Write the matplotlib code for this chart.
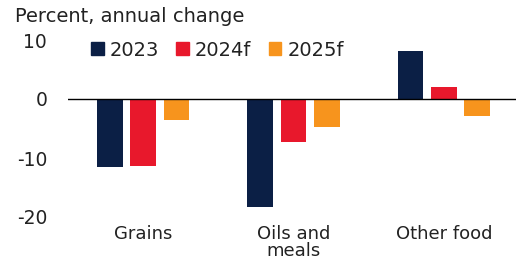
import matplotlib
matplotlib.use("Agg")
import matplotlib.pyplot as plt
import numpy as np
from matplotlib.patches import Patch

categories = ["Grains", "Oils and\nmeals", "Other food"]
series_names = ["2023", "2024f", "2025f"]
v2023 = [-11.5, -18.3, 8.1]
v2024 = [-11.3, -7.3, 2.0]
v2025 = [-3.6, -4.8, -2.9]
yticks = [-20, -10, 0, 10]

colors = ["#0b1f45", "#e8182c", "#f7941d"]
FONT = "DejaVu Sans"
TXT = "#222222"

fig = plt.figure(figsize=(5.16, 2.63), dpi=100)
ax = fig.add_axes([68/516, 1-217/263, 1-68/516, (217-40)/263])

x = np.arange(len(categories))
step = 0.222
width = 0.172
for i, (vals, c, name) in enumerate(zip([v2023, v2024, v2025], colors, series_names)):
    ax.bar(x + (i-1)*step, vals, width=width, color=c, label=name)

ax.axhline(0, color="black", lw=1)
ax.set_ylim(-20, 10)
ax.set_xlim(-0.5, 2.48)
ax.set_yticks(yticks)
ax.set_yticklabels([str(t) for t in yticks], family=FONT, fontsize=13.5, color=TXT)
ax.set_xticks(x)
ax.set_xticklabels(categories, family=FONT, fontsize=13, color=TXT, linespacing=0.9, va="top")
ax.tick_params(axis="both", length=0)
ax.tick_params(axis="x", pad=6)
ax.tick_params(axis="y", pad=15)
for s in ax.spines.values():
    s.set_visible(False)

fig.text(15/516, 1-17/263, "Percent, annual change", family=FONT, fontsize=14,
         color=TXT, va="center", ha="left")

handles = [Patch(color=c) for c in colors]
leg = ax.legend(handles, series_names, ncol=3, frameon=False, loc="center left",
                bbox_to_anchor=((91-68)/448, (217-50)/177), prop={"family": FONT, "size": 14},
                handlelength=0.65, handleheight=0.6, handletextpad=0.3, columnspacing=0.9,
                borderaxespad=0, borderpad=0)
for t in leg.get_texts():
    t.set_color(TXT)

fig.savefig("out.png", dpi=100)
